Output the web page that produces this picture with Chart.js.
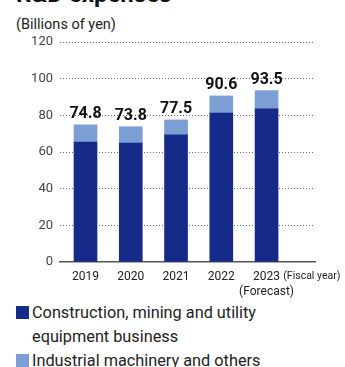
<!DOCTYPE html>
<html>
<head>
<meta charset="utf-8">
<script src="https://cdn.jsdelivr.net/npm/chart.js@4"></script>
<style>
  html, body { margin: 0; padding: 0; background: #fff; overflow: hidden; }
  body { width: 345px; height: 367px; position: relative; font-family: Roboto, "Noto Sans", sans-serif; color: #222; }
  #title { position: absolute; left: 16px; top: -20px; font-size: 24px; font-weight: bold; color: #111; white-space: nowrap; }
  #unit { position: absolute; left: 16px; top: 16px; font-size: 14.5px; color: #222; }
  #wrap { position: absolute; left: 0; top: 0; width: 345px; height: 300px; }
  #legend { position: absolute; left: 16px; top: 301px; font-size: 16.3px; line-height: 24px; color: #222; }
  .item { position: relative; padding-left: 16px; }
  .box { position: absolute; left: 0; top: 5px; width: 13px; height: 13px; }
</style>
</head>
<body>
<div id="title">R&amp;D expenses</div>
<div id="unit">(Billions of yen)</div>
<div id="wrap"><canvas id="chart" width="345" height="300"></canvas></div>
<div id="legend">
  <div class="item"><span class="box" style="background:#162a8a"></span>Construction, mining and utility<br>equipment business</div>
  <div class="item"><span class="box" style="background:#7b9fd4"></span>Industrial machinery and others</div>
</div>
<script>
// Data
const years = ['2019', '2020', '2021', '2022', ['2023', '(Forecast)']];
const construction = [65.4, 64.8, 69.3, 81.2, 83.5];
const industrial = [9.4, 9.0, 8.2, 9.4, 10.0];
const totals = [74.8, 73.8, 77.5, 90.6, 93.5];
const yTicks = [0, 20, 40, 60, 80, 100, 120];
const axisNote = '(Fiscal year)';

const darkBlue = '#162a8a';
const lightBlue = '#7b9fd4';

// Totals above bars
const totalLabels = {
  id: 'totalLabels',
  afterDatasetsDraw(chart) {
    const ctx = chart.ctx;
    const meta = chart.getDatasetMeta(1);
    ctx.save();
    ctx.font = 'bold 16px Roboto, sans-serif';
    ctx.fillStyle = '#111';
    ctx.textAlign = 'center';
    ctx.textBaseline = 'bottom';
    meta.data.forEach((bar, i) => {
      ctx.fillText(totals[i].toFixed(1), bar.x, bar.y - 3);
    });
    ctx.restore();
  }
};

const ctx = document.getElementById('chart').getContext('2d');
new Chart(ctx, {
  type: 'bar',
  data: {
    datasets: [
      { label: 'Construction, mining and utility equipment business', data: construction.map((v, i) => ({ x: i, y: v })), backgroundColor: darkBlue },
      { label: 'Industrial machinery and others', data: industrial.map((v, i) => ({ x: i, y: v })), backgroundColor: lightBlue }
    ]
  },
  options: {
    responsive: false,
    animation: false,
    layout: { padding: { top: 42, right: 30, left: 0, bottom: 0 } },
    datasets: { bar: { barThickness: 23 } },
    plugins: { legend: { display: false }, tooltip: { enabled: false } },
    scales: {
      x: {
        type: 'linear',
        stacked: true,
        offset: false,
        min: -0.5635,
        max: 5.07,
        grid: { display: false },
        border: { display: true, color: '#555', width: 1.5 },
        afterFit(scale) {
          scale.height = 38;
          scale.paddingLeft = 0;
          scale.paddingRight = 0;
        },
        afterBuildTicks(scale) {
          scale.ticks = [0, 1, 2, 3, 4, 5].map(v => ({ value: v }));
        },
        ticks: {
          padding: 0,
          color: '#222',
          maxRotation: 0,
          autoSkip: false,
          font: (c) => ({ family: 'Roboto, sans-serif', size: c.index === 5 ? 10.5 : 12 }),
          callback: (v) => v === 5 ? axisNote : years[v]
        }
      },
      y: {
        stacked: true,
        min: 0,
        max: 120,
        afterFit(scale) {
          scale.width = 60;
          scale.paddingTop = 0;
          scale.paddingBottom = 0;
        },
        afterBuildTicks(scale) {
          scale.ticks = yTicks.map(v => ({ value: v }));
        },
        grid: {
          color: (c) => c.tick && c.tick.value === 0 ? 'rgba(0,0,0,0)' : '#666',
          lineWidth: 1,
          drawTicks: false
        },
        border: { display: false, dash: [1, 2] },
        ticks: {
          padding: 7,
          color: '#444',
          font: { family: 'Roboto, sans-serif', size: 13 }
        }
      }
    }
  },
  plugins: [totalLabels]
});
</script>
</body>
</html>
